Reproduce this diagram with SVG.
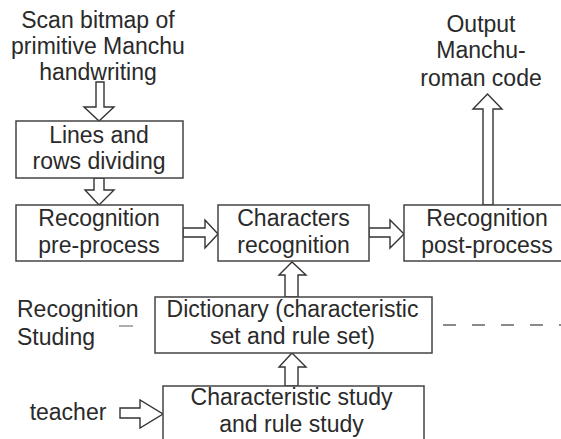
<svg xmlns="http://www.w3.org/2000/svg" width="561" height="439" viewBox="0 0 561 439">
<style>
.box{fill:#fff;stroke:#444;stroke-width:1.5}
.arr{fill:#fff;stroke:#333;stroke-width:1.4;stroke-linejoin:miter}
text{font-family:"Liberation Sans",Arial,sans-serif;font-size:23px;fill:#2a2a2a}
.c{text-anchor:middle}
.dash{stroke:#666;stroke-width:1.5;stroke-dasharray:13 16;fill:none}
</style>
<rect width="561" height="439" fill="#fff"/>
<g id="connectors">
<polygon class="arr" points="96,82 104,82 104,107 114,107 99,121 84,107 96,107"/>
<polygon class="arr" points="94,178 104,178 104,190 114,190 99,205 85,190 94,190"/>
<polygon class="arr" points="183,228 205,228 205,220 218,234 205,248 205,237 183,237"/>
<polygon class="arr" points="369,228 390,228 390,220 404,234 390,248 390,237 369,237"/>
<polygon class="arr" points="483,205 483,109 473,109 487.5,94 502,109 493,109 493,205"/>
<polygon class="arr" points="285,297 285,275 279,275 292,262 306,275 298,275 298,297"/>
<polygon class="arr" points="285,386 285,367 279,367 292,353 306,367 298,367 298,386"/>
<polygon class="arr" points="120,408 140,408 140,400 163,414 140,428 140,418 120,418"/>
<line class="dash" x1="443" y1="325" x2="561" y2="325"/>
<line x1="119" y1="326" x2="133" y2="326" stroke="#777" stroke-width="1.2"/>
</g>
<g id="scan"><text class="c" x="98" y="28">Scan bitmap of</text><text class="c" x="98" y="54">primitive Manchu</text><text class="c" x="98" y="80">handwriting</text></g>
<g id="lines"><rect class="box" x="16" y="121" width="167" height="57"/><text class="c" x="99" y="143">Lines and</text><text class="c" x="99" y="169">rows dividing</text></g>
<g id="preprocess"><rect class="box" x="16" y="205" width="167" height="56"/><text class="c" x="99" y="226">Recognition</text><text class="c" x="99" y="253">pre-process</text></g>
<g id="chars"><rect class="box" x="218" y="205" width="151" height="56"/><text class="c" x="293.5" y="226">Characters</text><text class="c" x="293.5" y="253">recognition</text></g>
<g id="postprocess"><rect class="box" x="404" y="205" width="160" height="56"/><text class="c" x="487" y="226">Recognition</text><text class="c" x="487" y="253">post-process</text></g>
<g id="output"><text class="c" x="481" y="32">Output</text><text class="c" x="481" y="58">Manchu-</text><text class="c" x="481" y="86">roman code</text></g>
<g id="dictionary"><rect class="box" x="155" y="297" width="277" height="56"/><text class="c" x="292.5" y="317">Dictionary (characteristic</text><text class="c" x="292.5" y="344">set and rule set)</text></g>
<g id="study"><rect class="box" x="163" y="386" width="261" height="60"/><text class="c" x="291.5" y="405">Characteristic study</text><text class="c" x="291.5" y="432">and rule study</text></g>
<g id="recstud"><text x="17" y="317">Recognition</text><text x="17" y="345">Studing</text></g>
<g id="teacher"><text class="c" x="68" y="420">teacher</text></g>
</svg>
